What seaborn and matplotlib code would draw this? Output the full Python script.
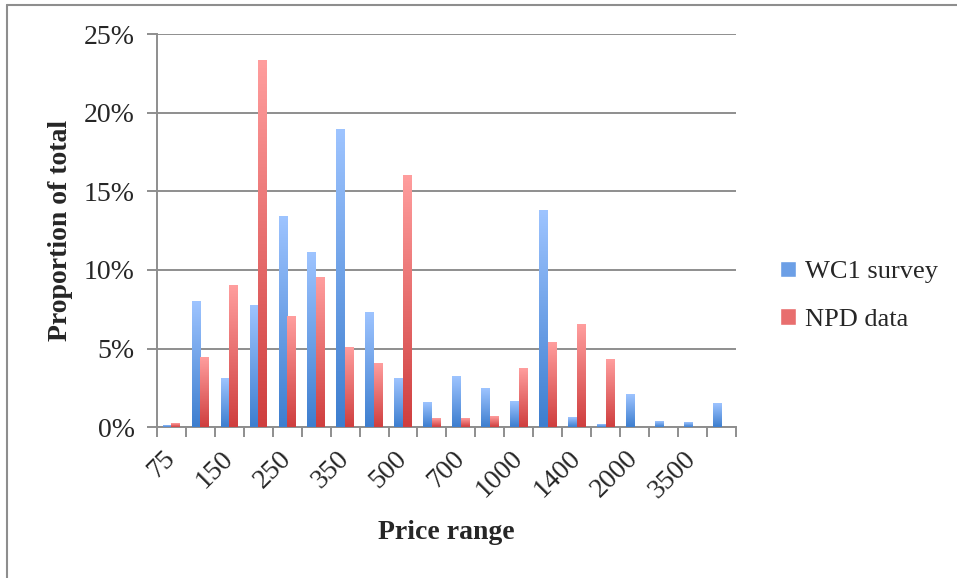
import numpy as np
import pandas as pd
import matplotlib
matplotlib.use("Agg")
import matplotlib.pyplot as plt
from matplotlib.colors import LinearSegmentedColormap
from matplotlib.lines import Line2D
from matplotlib.patches import Patch
import seaborn as sns

# price range categories (only every other one is labelled on the chart)
price_ranges = ["75", "100", "150", "200", "250", "300", "350", "400", "500", "600",
                "700", "800", "1000", "1200", "1400", "1700", "2000", "2500", "3500", "5000"]

# proportion of total, in percent
wc1_survey = [0.1, 8.0, 3.1, 7.7, 13.4, 11.1, 18.9, 7.3, 3.1, 1.55,
              3.2, 2.45, 1.6, 13.75, 0.6, 0.15, 2.05, 0.35, 0.3, 1.5]
npd_data = [0.2, 4.4, 9.0, 23.3, 7.0, 9.5, 5.05, 4.05, 16.0, 0.55,
            0.55, 0.65, 3.7, 5.4, 6.55, 4.3, 0.0, 0.0, 0.0, 0.0]

series_names = ["WC1 survey", "NPD data"]
y_ticks = [0, 5, 10, 15, 20, 25]

df = pd.DataFrame({
    "price": price_ranges * 2,
    "value": wc1_survey + npd_data,
    "source": [series_names[0]] * len(price_ranges) + [series_names[1]] * len(price_ranges),
})

sns.set_style("white")
plt.rcParams["font.family"] = ["Liberation Serif", "DejaVu Serif"]

blue_mid = "#6C9FE6"
red_mid = "#E86E6E"
grid_col = "#8E8E8E"

fig = plt.figure(figsize=(9.57, 5.78), dpi=100)
ax = fig.add_axes([0.164, 0.261, 0.605, 0.680])

sns.barplot(data=df, x="price", y="value", hue="source", order=price_ranges,
            hue_order=series_names, palette=[blue_mid, red_mid], width=0.6,
            saturation=1, legend=False, ax=ax, zorder=3)

ax.set_xlim(-0.5, len(price_ranges) - 0.5)
ax.set_ylim(0, 25)
ax.set_autoscale_on(False)

# vertical gradient on each bar: light at top, dark at bottom
blue_cmap = LinearSegmentedColormap.from_list("b", ["#3D7ECF", "#9EC4FF"])
red_cmap = LinearSegmentedColormap.from_list("r", ["#CF3E3E", "#FF9E9E"])
grad = np.linspace(0, 1, 256).reshape(-1, 1)
n = len(price_ranges)
for i, p in enumerate(ax.patches[:2 * n]):
    h = p.get_height()
    cmap = blue_cmap if i < n else red_cmap
    p.set_facecolor("none")
    p.set_edgecolor("none")
    if h <= 0:
        continue
    x0 = p.get_x()
    ax.imshow(grad, extent=[x0, x0 + p.get_width(), 0, h], origin="lower",
              cmap=cmap, aspect="auto", zorder=3, interpolation="bicubic")

# axes styling
ax.set_yticks(y_ticks)
ax.set_yticklabels([f"{v}%" for v in y_ticks])
ax.yaxis.grid(True, color=grid_col, linewidth=1.4, zorder=0)
ax.set_axisbelow(True)
for s in ["top", "right"]:
    ax.spines[s].set_visible(False)
for s in ["left", "bottom"]:
    ax.spines[s].set_color(grid_col)
    ax.spines[s].set_linewidth(1.4)

ax.set_xticks(range(0, n, 2))
ax.set_xticklabels(price_ranges[::2], rotation=45, ha="right", va="center",
                   rotation_mode="anchor")
ax.set_xticks(np.arange(-0.5, n, 1.0), minor=True)
ax.tick_params(axis="x", which="major", length=0, pad=20, labelsize=20)
ax.tick_params(axis="x", which="minor", length=7, width=1.4, color=grid_col, direction="out")
ax.tick_params(axis="y", length=7, width=1.4, color=grid_col, direction="out", labelsize=20, pad=9)
ax.tick_params(left=True, bottom=True, which="both")

ax.set_xlabel("Price range", fontsize=20, fontweight="bold")
ax.xaxis.set_label_coords(0.5, -0.237)
ax.set_ylabel("Proportion of total", fontsize=20, fontweight="bold")
ax.yaxis.set_label_coords(-0.145, 0.5)

handles = [Patch(facecolor=blue_mid, label=series_names[0]),
           Patch(facecolor=red_mid, label=series_names[1])]
fig.legend(handles=handles, loc="center left", bbox_to_anchor=(0.790, 0.488),
           frameon=False, fontsize=19, handlelength=0.6, handleheight=0.6,
           handletextpad=0.35, labelspacing=0.95)

# frame lines at top and left of the picture
fig.add_artist(Line2D([7 / 957, 1.0], [1 - 5 / 578, 1 - 5 / 578], color=grid_col, linewidth=1.5))
fig.add_artist(Line2D([7 / 957, 7 / 957], [0, 1 - 5 / 578], color=grid_col, linewidth=1.5))

fig.savefig("out.png", dpi=100)
